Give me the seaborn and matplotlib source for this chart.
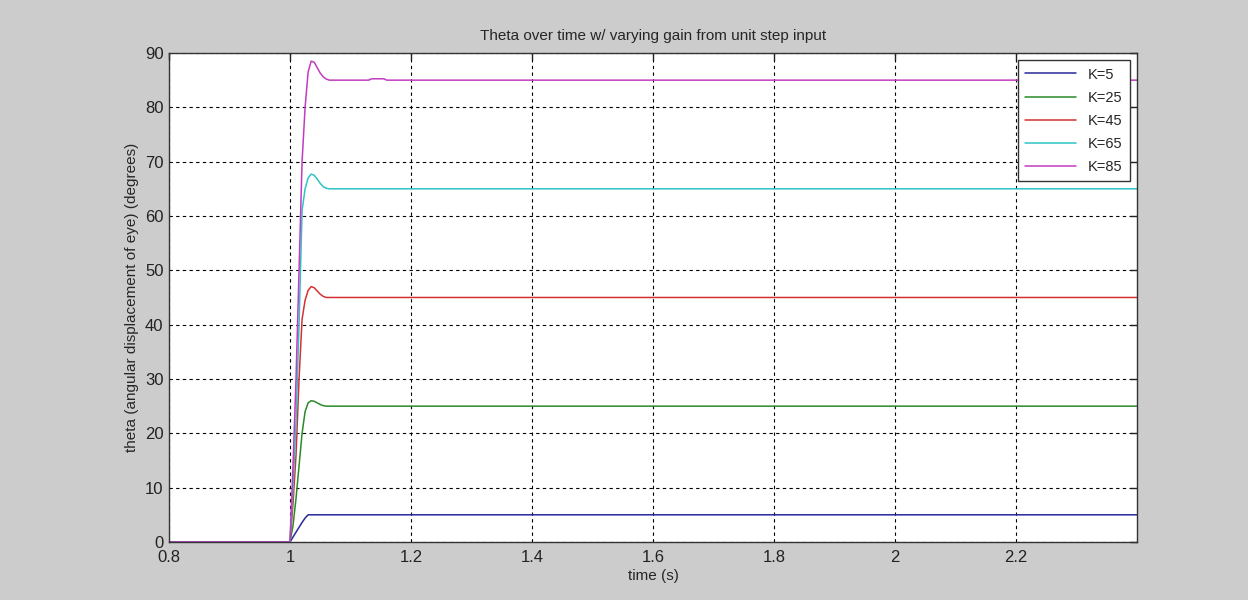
import pandas as pd
import numpy as np
import matplotlib.pyplot as plt
import seaborn as sns

# time points (s)
time = [0.8, 1.0, 1.005, 1.01, 1.015, 1.02, 1.025, 1.03, 1.035, 1.04, 1.045,
        1.05, 1.055, 1.06, 1.065, 1.07, 1.13, 1.135, 1.155, 1.16, 2.4]

k5 = [0, 0, 0.9, 1.8, 2.7, 3.6, 4.4, 5.0, 5.0, 5.0, 5.0,
      5.0, 5.0, 5.0, 5.0, 5.0, 5.0, 5.0, 5.0, 5.0, 5.0]
k25 = [0, 0, 3, 8, 14, 20, 24, 25.6, 26.0, 25.9, 25.6,
       25.3, 25.1, 25.0, 25.0, 25.0, 25.0, 25.0, 25.0, 25.0, 25.0]
k45 = [0, 0, 7, 16, 30, 41, 44.5, 46.3, 47.0, 46.8, 46.2,
       45.6, 45.2, 45.0, 45.0, 45.0, 45.0, 45.0, 45.0, 45.0, 45.0]
k65 = [0, 0, 10, 22, 40, 61, 65, 67.0, 67.7, 67.5, 66.8,
       66.0, 65.4, 65.1, 65.0, 65.0, 65.0, 65.0, 65.0, 65.0, 65.0]
k85 = [0, 0, 14, 30, 50, 70, 80, 86.5, 88.5, 88.3, 87.3,
       86.3, 85.6, 85.2, 85.0, 85.0, 85.0, 85.25, 85.25, 85.0, 85.0]

labels = ["K=5", "K=25", "K=45", "K=65", "K=85"]
colors = ["#28289a", "#2a8a2a", "#d43232", "#2ec4c4", "#c23cc2"]

df = pd.DataFrame({"time": time, "K=5": k5, "K=25": k25, "K=45": k45,
                   "K=65": k65, "K=85": k85})
df_long = df.melt(id_vars=["time"], var_name="gain", value_name="theta")

sns.set_style("white")
plt.rcParams["font.family"] = ["Liberation Sans", "DejaVu Sans"]

fig = plt.figure(figsize=(12.48, 6), dpi=100, facecolor="#cccccc")
ax = fig.add_axes([0.1354, 0.0967, 0.7756, 0.815])

sns.lineplot(data=df_long, x="time", y="theta", hue="gain", hue_order=labels,
             palette=colors, linewidth=1.1, estimator=None, ax=ax)

ax.set_xlim(0.8, 2.4)
ax.set_ylim(0, 90)
ax.set_xticks([0.8, 1.0, 1.2, 1.4, 1.6, 1.8, 2.0, 2.2])
ax.set_xticklabels(["0.8", "1", "1.2", "1.4", "1.6", "1.8", "2", "2.2"])
ax.set_yticks(range(0, 91, 10))
ax.tick_params(direction="in", top=True, right=True, length=5, width=1,
               labelsize=12, colors="#222222", pad=4)
ax.tick_params(axis="x", pad=6)
ax.grid(True, color="black", linestyle=(0, (3, 3)), linewidth=0.8)
for s in ax.spines.values():
    s.set_color("#333333")
    s.set_linewidth(1.0)

ax.set_xlabel("time (s)", fontsize=11, labelpad=3)
ax.set_ylabel("theta (angular displacement of eye) (degrees)", fontsize=11, labelpad=4)
ax.set_title("Theta over time w/ varying gain from unit step input", fontsize=11, pad=9)

leg = ax.legend(loc="upper right", fontsize=10.5, frameon=True, fancybox=False,
                edgecolor="#333333", framealpha=1, handlelength=3.5,
                labelspacing=0.62, borderpad=0.5, borderaxespad=0.5)
leg.get_frame().set_linewidth(1.0)

plt.savefig("out.png", dpi=100, facecolor=fig.get_facecolor())
